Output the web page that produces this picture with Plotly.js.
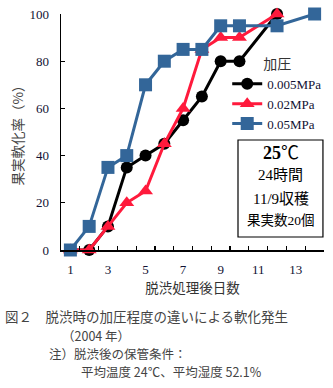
<!DOCTYPE html>
<html><head><meta charset="utf-8">
<script src="https://cdn.plot.ly/plotly-3.0.1.min.js"></script>
<style>body{margin:0;padding:0;background:#fff}#c{width:333px;height:388px}</style>
</head><body><div id="c"></div>
<script>
const days005 = [1, 2, 3, 4, 5, 6, 7, 8, 9, 10, 12];
const vals005 = [0, 0, 10, 35, 40, 45, 55, 65, 80, 80, 100];
const days02 = [1, 2, 3, 4, 5, 6, 7, 8, 9, 10, 12];
const vals02 = [0, 0, 10, 20, 25, 45, 60, 85, 90, 90, 100];
const days05 = [1, 2, 3, 4, 5, 6, 7, 8, 9, 10, 12, 14];
const vals05 = [0, 10, 35, 40, 70, 80, 85, 85, 95, 95, 95, 100];
const seriesNames = ['0.005MPa', '0.02MPa', '0.05MPa'];
const xTickVals = [1, 3, 5, 7, 9, 11, 13];
const xTickMarks = [0.5,1.5,2.5,3.5,4.5,5.5,6.5,7.5,8.5,9.5,10.5,11.5,12.5,13.5,14.5];
const yTickVals = [0, 20, 40, 60, 80, 100];

const SERIF = '"Liberation Serif", "Times New Roman", "Noto Sans CJK JP", serif';
const JP = '"Noto Sans CJK JP", sans-serif';

const traces = [
  {x: days005, y: vals005, name: seriesNames[0], mode: 'lines+markers', cliponaxis: false,
   line: {color: '#000000', width: 3}, marker: {symbol: 'circle', size: 12, color: '#000000'}},
  {x: days02, y: vals02, name: seriesNames[1], mode: 'lines+markers', cliponaxis: false,
   line: {color: '#ff1a3c', width: 3}, marker: {symbol: 'triangle-up', size: 13, color: '#ff1a3c'}},
  {x: days05, y: vals05, name: seriesNames[2], mode: 'lines+markers', cliponaxis: false,
   line: {color: '#336699', width: 3}, marker: {symbol: 'square', size: 13, color: '#336699'}},
  {x: [0.5], y: [0], xaxis: 'x2', yaxis: 'y', showlegend: false, mode: 'markers',
   marker: {opacity: 0}, hoverinfo: 'skip'}
];

const mid = {xanchor: 'center', yanchor: 'middle', showarrow: false, xref: 'paper', yref: 'paper'};
const left = {xanchor: 'left', yanchor: 'middle', showarrow: false, xref: 'paper', yref: 'paper', borderpad: 0};

const layout = {
  width: 333, height: 388,
  margin: {l: 61, r: 6, t: 14, b: 138},
  paper_bgcolor: '#ffffff', plot_bgcolor: '#ffffff',
  font: {family: SERIF, color: '#111111', size: 13},
  showlegend: true,
  legend: {x: 0.632, xanchor: 'left', y: 0.845, yanchor: 'top',
    bgcolor: 'rgba(0,0,0,0)', font: {family: SERIF, size: 13, color: '#111133'},
    title: {text: '加圧', side: 'top center', font: {family: JP, size: 14, color: '#333333'}},
    tracegroupgap: 0, itemwidth: 30},
  xaxis: {range: [0.5, 14.5], tickvals: xTickVals, ticktext: xTickVals.map(String),
    ticks: '', showgrid: false, zeroline: false, showline: true, linecolor: '#000', linewidth: 1.5,
    ticklabelstandoff: 7,
    tickfont: {family: SERIF, size: 13, color: '#111133'},
    title: {text: '脱渋処理後日数', font: {family: JP, size: 13.5, color: '#333333'}, standoff: 7}},
  xaxis2: {range: [0.5, 14.5], overlaying: 'x', anchor: 'y', side: 'bottom',
    tickvals: xTickMarks, showticklabels: false, ticks: 'inside', ticklen: 4, tickwidth: 1.2, tickcolor: '#000',
    showgrid: false, zeroline: false, showline: false},
  yaxis: {range: [0, 100], tickvals: yTickVals, ticks: 'inside', ticklen: 4, tickwidth: 1.2, tickcolor: '#000',
    showgrid: false, zeroline: false, showline: true, linecolor: '#000', linewidth: 1.5,
    ticklabelstandoff: 8,
    tickfont: {family: SERIF, size: 13, color: '#111133'},
    title: {text: '果実軟化率（%）', font: {family: JP, size: 13.5, color: '#444444'}, standoff: 2}},
  shapes: [
    {type: 'rect', xref: 'paper', yref: 'paper', x0: 0.673, x1: 0.996, y0: 0.055, y1: 0.466,
     line: {color: '#000', width: 1.2}, fillcolor: 'rgba(0,0,0,0)'}
  ],
  annotations: [
    Object.assign({x: 0.835, y: 0.41, text: '<b>25</b>℃', font: {family: SERIF, size: 18, color: '#000'}}, mid),
    Object.assign({x: 0.835, y: 0.318, text: '24時間', font: {family: SERIF, size: 15, color: '#000'}}, mid),
    Object.assign({x: 0.835, y: 0.217, text: '11/9収穫', font: {family: SERIF, size: 15, color: '#000'}}, mid),
    Object.assign({x: 0.835, y: 0.123, text: '果実数20個', font: {family: SERIF, size: 13.5, color: '#000'}}, mid),
    Object.assign({x: -0.215, y: -0.28, text: '図２　脱渋時の加圧程度の違いによる軟化発生', font: {family: JP, size: 13.5, color: '#444444'}}, left),
    Object.assign({x: 0.0, y: -0.362, text: '（2004 年）', font: {family: JP, size: 12.5, color: '#444444'}}, left),
    Object.assign({x: -0.05, y: -0.438, text: '注）脱渋後の保管条件：', font: {family: JP, size: 12.5, color: '#444444'}}, left),
    Object.assign({x: 0.072, y: -0.514, text: '平均温度 24℃、平均湿度 52.1%', font: {family: JP, size: 12.5, color: '#444444'}}, left)
  ]
};

Plotly.newPlot('c', traces, layout, {displayModeBar: false, staticPlot: true});
</script></body></html>
